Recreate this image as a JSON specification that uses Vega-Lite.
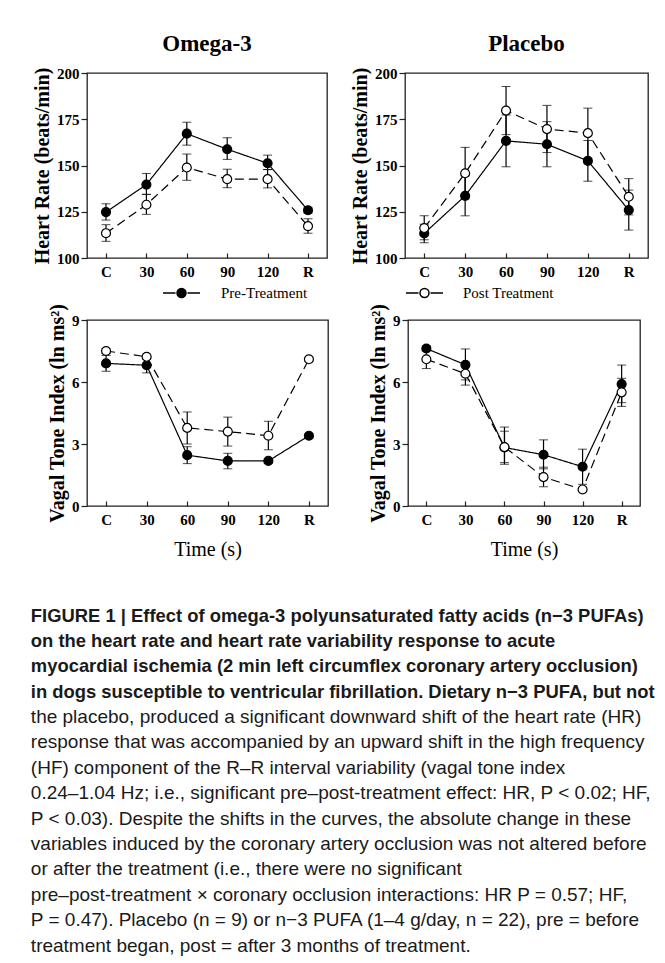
{
  "$schema": "https://vega.github.io/schema/vega-lite/v6.json",
  "padding": {"left": 30, "top": 32, "right": 5, "bottom": 5},
  "background": "white",
  "datasets": {
    "d": [
      {"group": "Omega-3", "measure": "HR", "series": "Pre-Treatment", "time": "C", "value": 124.8, "lo": 120.5, "hi": 129.3},
      {"group": "Omega-3", "measure": "HR", "series": "Pre-Treatment", "time": "30", "value": 139.7, "lo": 134.4, "hi": 145.7},
      {"group": "Omega-3", "measure": "HR", "series": "Pre-Treatment", "time": "60", "value": 167.2, "lo": 161.0, "hi": 173.4},
      {"group": "Omega-3", "measure": "HR", "series": "Pre-Treatment", "time": "90", "value": 158.8, "lo": 153.3, "hi": 165.0},
      {"group": "Omega-3", "measure": "HR", "series": "Pre-Treatment", "time": "120", "value": 151.2, "lo": 147.8, "hi": 155.6},
      {"group": "Omega-3", "measure": "HR", "series": "Pre-Treatment", "time": "R", "value": 125.8, "lo": 124.2, "hi": 127.4},
      {"group": "Omega-3", "measure": "HR", "series": "Post Treatment", "time": "C", "value": 113.4, "lo": 109.0, "hi": 118.0},
      {"group": "Omega-3", "measure": "HR", "series": "Post Treatment", "time": "30", "value": 128.8, "lo": 123.6, "hi": 134.4},
      {"group": "Omega-3", "measure": "HR", "series": "Post Treatment", "time": "60", "value": 148.9, "lo": 142.0, "hi": 156.2},
      {"group": "Omega-3", "measure": "HR", "series": "Post Treatment", "time": "90", "value": 142.6, "lo": 138.0, "hi": 148.0},
      {"group": "Omega-3", "measure": "HR", "series": "Post Treatment", "time": "120", "value": 142.6, "lo": 137.9, "hi": 147.8},
      {"group": "Omega-3", "measure": "HR", "series": "Post Treatment", "time": "R", "value": 117.2, "lo": 113.4, "hi": 121.2},
      {"group": "Placebo", "measure": "HR", "series": "Pre-Treatment", "time": "C", "value": 113.3, "lo": 108.3, "hi": 118.3},
      {"group": "Placebo", "measure": "HR", "series": "Pre-Treatment", "time": "30", "value": 133.6, "lo": 122.8, "hi": 144.4},
      {"group": "Placebo", "measure": "HR", "series": "Pre-Treatment", "time": "60", "value": 163.3, "lo": 149.3, "hi": 177.3},
      {"group": "Placebo", "measure": "HR", "series": "Pre-Treatment", "time": "90", "value": 161.5, "lo": 149.3, "hi": 173.7},
      {"group": "Placebo", "measure": "HR", "series": "Pre-Treatment", "time": "120", "value": 152.5, "lo": 141.5, "hi": 163.5},
      {"group": "Placebo", "measure": "HR", "series": "Pre-Treatment", "time": "R", "value": 125.9, "lo": 115.1, "hi": 136.7},
      {"group": "Placebo", "measure": "HR", "series": "Post Treatment", "time": "C", "value": 116.2, "lo": 109.8, "hi": 122.8},
      {"group": "Placebo", "measure": "HR", "series": "Post Treatment", "time": "30", "value": 145.8, "lo": 132.0, "hi": 159.8},
      {"group": "Placebo", "measure": "HR", "series": "Post Treatment", "time": "60", "value": 179.7, "lo": 166.7, "hi": 192.7},
      {"group": "Placebo", "measure": "HR", "series": "Post Treatment", "time": "90", "value": 169.7, "lo": 157.0, "hi": 182.5},
      {"group": "Placebo", "measure": "HR", "series": "Post Treatment", "time": "120", "value": 167.5, "lo": 154.0, "hi": 181.0},
      {"group": "Placebo", "measure": "HR", "series": "Post Treatment", "time": "R", "value": 133.1, "lo": 123.3, "hi": 142.9},
      {"group": "Omega-3", "measure": "VTI", "series": "Pre-Treatment", "time": "C", "value": 6.9, "lo": 6.52, "hi": 7.28},
      {"group": "Omega-3", "measure": "VTI", "series": "Pre-Treatment", "time": "30", "value": 6.81, "lo": 6.44, "hi": 7.18},
      {"group": "Omega-3", "measure": "VTI", "series": "Pre-Treatment", "time": "60", "value": 2.46, "lo": 2.05, "hi": 2.87},
      {"group": "Omega-3", "measure": "VTI", "series": "Pre-Treatment", "time": "90", "value": 2.18, "lo": 1.8, "hi": 2.55},
      {"group": "Omega-3", "measure": "VTI", "series": "Pre-Treatment", "time": "120", "value": 2.18, "lo": 2.08, "hi": 2.28},
      {"group": "Omega-3", "measure": "VTI", "series": "Pre-Treatment", "time": "R", "value": 3.4, "lo": 3.3, "hi": 3.5},
      {"group": "Omega-3", "measure": "VTI", "series": "Post Treatment", "time": "C", "value": 7.5, "lo": 7.38, "hi": 7.62},
      {"group": "Omega-3", "measure": "VTI", "series": "Post Treatment", "time": "30", "value": 7.22, "lo": 7.1, "hi": 7.34},
      {"group": "Omega-3", "measure": "VTI", "series": "Post Treatment", "time": "60", "value": 3.78, "lo": 3.0, "hi": 4.55},
      {"group": "Omega-3", "measure": "VTI", "series": "Post Treatment", "time": "90", "value": 3.6, "lo": 2.9, "hi": 4.3},
      {"group": "Omega-3", "measure": "VTI", "series": "Post Treatment", "time": "120", "value": 3.4, "lo": 2.72, "hi": 4.1},
      {"group": "Omega-3", "measure": "VTI", "series": "Post Treatment", "time": "R", "value": 7.1, "lo": 7.0, "hi": 7.2},
      {"group": "Placebo", "measure": "VTI", "series": "Pre-Treatment", "time": "C", "value": 7.62, "lo": 7.5, "hi": 7.74},
      {"group": "Placebo", "measure": "VTI", "series": "Pre-Treatment", "time": "30", "value": 6.83, "lo": 6.1, "hi": 7.6},
      {"group": "Placebo", "measure": "VTI", "series": "Pre-Treatment", "time": "60", "value": 2.83, "lo": 2.02, "hi": 3.82},
      {"group": "Placebo", "measure": "VTI", "series": "Pre-Treatment", "time": "90", "value": 2.48, "lo": 1.8, "hi": 3.2},
      {"group": "Placebo", "measure": "VTI", "series": "Pre-Treatment", "time": "120", "value": 1.9, "lo": 1.05, "hi": 2.75},
      {"group": "Placebo", "measure": "VTI", "series": "Pre-Treatment", "time": "R", "value": 5.9, "lo": 5.0, "hi": 6.82},
      {"group": "Placebo", "measure": "VTI", "series": "Post Treatment", "time": "C", "value": 7.1, "lo": 6.65, "hi": 7.55},
      {"group": "Placebo", "measure": "VTI", "series": "Post Treatment", "time": "30", "value": 6.4, "lo": 5.85, "hi": 6.95},
      {"group": "Placebo", "measure": "VTI", "series": "Post Treatment", "time": "60", "value": 2.85, "lo": 2.1, "hi": 3.62},
      {"group": "Placebo", "measure": "VTI", "series": "Post Treatment", "time": "90", "value": 1.4, "lo": 0.93, "hi": 1.88},
      {"group": "Placebo", "measure": "VTI", "series": "Post Treatment", "time": "120", "value": 0.8, "lo": 0.7, "hi": 0.9},
      {"group": "Placebo", "measure": "VTI", "series": "Post Treatment", "time": "R", "value": 5.5, "lo": 4.82, "hi": 6.18}
    ]
  },
  "title": {
    "text": [
      "FIGURE 1 | Effect of omega-3 polyunsaturated fatty acids (n−3 PUFAs)",
      "on the heart rate and heart rate variability response to acute",
      "myocardial ischemia (2 min left circumflex coronary artery occlusion)",
      "in dogs susceptible to ventricular fibrillation. Dietary n−3 PUFA, but not"
    ],
    "subtitle": [
      "the placebo, produced a significant downward shift of the heart rate (HR)",
      "response that was accompanied by an upward shift in the high frequency",
      "(HF) component of the R–R interval variability (vagal tone index",
      "0.24–1.04 Hz; i.e., significant pre–post-treatment effect: HR, P < 0.02; HF,",
      "P < 0.03). Despite the shifts in the curves, the absolute change in these",
      "variables induced by the coronary artery occlusion was not altered before",
      "or after the treatment (i.e., there were no significant",
      "pre–post-treatment × coronary occlusion interactions: HR P = 0.57; HF,",
      "P = 0.47). Placebo (n = 9) or n−3 PUFA (1–4 g/day, n = 22), pre = before",
      "treatment began, post = after 3 months of treatment."
    ],
    "orient": "bottom",
    "anchor": "start",
    "frame": "bounds",
    "offset": 47,
    "dx": -1,
    "font": "Liberation Sans, Arial, sans-serif",
    "fontSize": 18.4,
    "fontWeight": "bold",
    "color": "#1a1a1a",
    "lineHeight": 25.4,
    "subtitleFont": "Liberation Sans, Arial, sans-serif",
    "subtitleFontSize": 19,
    "subtitleFontWeight": "normal",
    "subtitleColor": "#1a1a1a",
    "subtitleLineHeight": 25.4,
    "subtitlePadding": 6.7
  },
  "vconcat": [
    {
      "spacing": 21,
      "hconcat": [
        {
          "width": 240, "height": 185,
          "title": {"text": "Omega-3"},
          "data": {"name": "d"},
          "transform": [{"filter": "datum.group === 'Omega-3' && datum.measure === 'HR'"}],
          "encoding": {
            "x": {"field": "time", "type": "ordinal", "sort": ["C", "30", "60", "90", "120", "R"], "scale": {"type": "point", "padding": 0.47}, "axis": {"title": null}}
          },
          "layer": [
            {
              "mark": {"type": "errorbar", "ticks": {"size": 9, "color": "black"}, "rule": {"color": "black", "strokeWidth": 1.2}},
              "encoding": {
                "y": {"field": "lo", "type": "quantitative", "scale": {"domain": [100, 200]}, "title": "Heart Rate (beats/min)", "axis": {"values": [100, 112.5, 125, 137.5, 150, 162.5, 175, 187.5, 200], "labelExpr": "datum.value % 25 === 0 ? datum.label : ''"}},
                "y2": {"field": "hi"},
                "detail": {"field": "series"}
              }
            },
            {
              "mark": {"type": "line", "color": "black", "strokeWidth": 1.2},
              "encoding": {
                "y": {"field": "value", "type": "quantitative", "title": "Heart Rate (beats/min)"},
                "strokeDash": {"field": "series", "type": "nominal", "scale": {"domain": ["Pre-Treatment", "Post Treatment"], "range": [[1, 0], [9, 5]]}, "legend": null}
              }
            },
            {
              "mark": {"type": "point", "filled": true, "size": 80, "stroke": "black", "strokeWidth": 1.2, "opacity": 1},
              "encoding": {
                "y": {"field": "value", "type": "quantitative", "title": "Heart Rate (beats/min)"},
                "fill": {"field": "series", "type": "nominal", "scale": {"domain": ["Pre-Treatment", "Post Treatment"], "range": ["black", "white"]},
                  "legend": {"values": ["Pre-Treatment"], "orient": "bottom", "offset": 3, "title": null,
                    "symbolType": "M6.5,0H7.75M8.95,0H10.2M7.9,0A0.45,0.45,0,1,1,8.8,0A0.45,0.45,0,1,1,7.9,0Z",
                    "symbolSize": 400, "labelFont": "Liberation Serif", "labelFontSize": 15, "labelColor": "black", "labelOffset": 112,
                    "encode": {"symbols": {"update": {"stroke": {"value": "black"}, "strokeWidth": {"value": 1.4}}}}}
                }
              }
            }
          ]
        },
        {
          "width": 243, "height": 185,
          "title": {"text": "Placebo"},
          "data": {"name": "d"},
          "transform": [{"filter": "datum.group === 'Placebo' && datum.measure === 'HR'"}],
          "encoding": {
            "x": {"field": "time", "type": "ordinal", "sort": ["C", "30", "60", "90", "120", "R"], "scale": {"type": "point", "padding": 0.47}, "axis": {"title": null}}
          },
          "layer": [
            {
              "mark": {"type": "errorbar", "ticks": {"size": 9, "color": "black"}, "rule": {"color": "black", "strokeWidth": 1.2}},
              "encoding": {
                "y": {"field": "lo", "type": "quantitative", "scale": {"domain": [100, 200]}, "title": "Heart Rate (beats/min)", "axis": {"values": [100, 112.5, 125, 137.5, 150, 162.5, 175, 187.5, 200], "labelExpr": "datum.value % 25 === 0 ? datum.label : ''"}},
                "y2": {"field": "hi"},
                "detail": {"field": "series"}
              }
            },
            {
              "mark": {"type": "line", "color": "black", "strokeWidth": 1.2},
              "encoding": {
                "y": {"field": "value", "type": "quantitative", "title": "Heart Rate (beats/min)"},
                "strokeDash": {"field": "series", "type": "nominal", "scale": {"domain": ["Pre-Treatment", "Post Treatment"], "range": [[1, 0], [9, 5]]}, "legend": null}
              }
            },
            {
              "mark": {"type": "point", "filled": true, "size": 80, "stroke": "black", "strokeWidth": 1.2, "opacity": 1},
              "encoding": {
                "y": {"field": "value", "type": "quantitative", "title": "Heart Rate (beats/min)"},
                "fill": {"field": "series", "type": "nominal", "scale": {"domain": ["Pre-Treatment", "Post Treatment"], "range": ["black", "white"]},
                  "legend": {"values": ["Post Treatment"], "orient": "none", "legendX": 0, "legendY": 209, "title": null,
                    "symbolType": "M-1,0H0.25M1.45,0H2.7M0.4,0A0.45,0.45,0,1,1,1.3,0A0.45,0.45,0,1,1,0.4,0Z",
                    "symbolSize": 400, "labelFont": "Liberation Serif", "labelFontSize": 15, "labelColor": "black", "labelOffset": 36,
                    "encode": {"symbols": {"update": {"stroke": {"value": "black"}, "strokeWidth": {"value": 1.4}}}}}
                }
              }
            }
          ]
        }
      ]
    },
    {
      "spacing": 38,
      "hconcat": [
        {
          "width": 241, "height": 186,
          "data": {"name": "d"},
          "transform": [{"filter": "datum.group === 'Omega-3' && datum.measure === 'VTI'"}],
          "encoding": {
            "x": {"field": "time", "type": "ordinal", "sort": ["C", "30", "60", "90", "120", "R"], "scale": {"type": "point", "padding": 0.47}, "axis": {"title": "Time (s)"}}
          },
          "layer": [
            {
              "mark": {"type": "errorbar", "ticks": {"size": 9, "color": "black"}, "rule": {"color": "black", "strokeWidth": 1.2}},
              "encoding": {
                "y": {"field": "lo", "type": "quantitative", "scale": {"domain": [0, 9]}, "title": "Vagal Tone Index (ln ms²)", "axis": {"values": [0, 1.5, 3, 4.5, 6, 7.5, 9], "labelExpr": "datum.value % 3 === 0 ? datum.label : ''"}},
                "y2": {"field": "hi"},
                "detail": {"field": "series"}
              }
            },
            {
              "mark": {"type": "line", "color": "black", "strokeWidth": 1.2},
              "encoding": {
                "y": {"field": "value", "type": "quantitative", "title": "Vagal Tone Index (ln ms²)"},
                "strokeDash": {"field": "series", "type": "nominal", "scale": {"domain": ["Pre-Treatment", "Post Treatment"], "range": [[1, 0], [9, 5]]}, "legend": null}
              }
            },
            {
              "mark": {"type": "point", "filled": true, "size": 80, "stroke": "black", "strokeWidth": 1.2, "opacity": 1},
              "encoding": {
                "y": {"field": "value", "type": "quantitative", "title": "Vagal Tone Index (ln ms²)"},
                "fill": {"field": "series", "type": "nominal", "scale": {"domain": ["Pre-Treatment", "Post Treatment"], "range": ["black", "white"]}, "legend": null}
              }
            }
          ]
        },
        {
          "width": 232, "height": 186,
          "data": {"name": "d"},
          "transform": [{"filter": "datum.group === 'Placebo' && datum.measure === 'VTI'"}],
          "encoding": {
            "x": {"field": "time", "type": "ordinal", "sort": ["C", "30", "60", "90", "120", "R"], "scale": {"type": "point", "padding": 0.47}, "axis": {"title": "Time (s)"}}
          },
          "layer": [
            {
              "mark": {"type": "errorbar", "ticks": {"size": 9, "color": "black"}, "rule": {"color": "black", "strokeWidth": 1.2}},
              "encoding": {
                "y": {"field": "lo", "type": "quantitative", "scale": {"domain": [0, 9]}, "title": "Vagal Tone Index (ln ms²)", "axis": {"values": [0, 1.5, 3, 4.5, 6, 7.5, 9], "labelExpr": "datum.value % 3 === 0 ? datum.label : ''"}},
                "y2": {"field": "hi"},
                "detail": {"field": "series"}
              }
            },
            {
              "mark": {"type": "line", "color": "black", "strokeWidth": 1.2},
              "encoding": {
                "y": {"field": "value", "type": "quantitative", "title": "Vagal Tone Index (ln ms²)"},
                "strokeDash": {"field": "series", "type": "nominal", "scale": {"domain": ["Pre-Treatment", "Post Treatment"], "range": [[1, 0], [9, 5]]}, "legend": null}
              }
            },
            {
              "mark": {"type": "point", "filled": true, "size": 80, "stroke": "black", "strokeWidth": 1.2, "opacity": 1},
              "encoding": {
                "y": {"field": "value", "type": "quantitative", "title": "Vagal Tone Index (ln ms²)"},
                "fill": {"field": "series", "type": "nominal", "scale": {"domain": ["Pre-Treatment", "Post Treatment"], "range": ["black", "white"]}, "legend": null}
              }
            }
          ]
        }
      ]
    }
  ],
  "spacing": 0,
  "config": {
    "view": {"stroke": "#222", "strokeWidth": 1.3},
    "title": {"font": "Liberation Serif", "fontSize": 23, "fontWeight": "bold", "color": "black", "offset": 10},
    "axis": {
      "grid": false, "domain": false,
      "labelFont": "Liberation Serif", "labelFontWeight": "bold", "labelFontSize": 15, "labelColor": "black",
      "titleFont": "Liberation Serif", "titleColor": "black",
      "tickColor": "#222", "tickWidth": 1.2
    },
    "axisY": {"tickSize": 6, "labelPadding": 2, "titleFontSize": 20, "titleFontWeight": "bold", "titlePadding": 4},
    "axisX": {"tickSize": -5, "labelPadding": 11, "titleFontSize": 20, "titleFontWeight": "normal", "titlePadding": 12, "labelAngle": 0}
  }
}
